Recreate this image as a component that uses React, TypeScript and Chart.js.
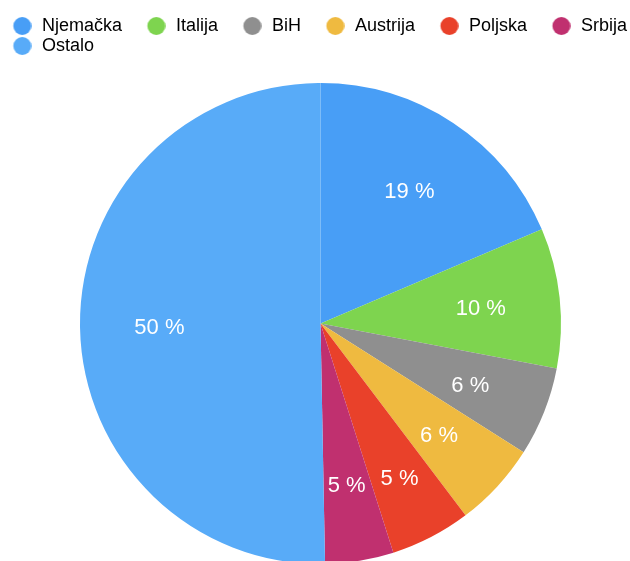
import React, { useEffect, useRef } from "react";
import { Chart, registerables } from "chart.js";

Chart.register(...registerables);

const countries = ["Njemačka", "Italija", "BiH", "Austrija", "Poljska", "Srbija", "Ostalo"];
const shares = [18.6, 9.4, 6.0, 5.7, 5.4, 4.6, 50.3];
const shareLabels = ["19 %", "10 %", "6 %", "6 %", "5 %", "5 %", "50 %"];
const colors = ["#489ef6", "#7ed44f", "#8f8f8f", "#efba40", "#e9412a", "#c0306f", "#58abf8"];

const FONT = "'Liberation Sans', Arial, Helvetica, sans-serif";

function makeDot(color: string) {
  const c = document.createElement("canvas");
  c.width = 40;
  c.height = 20;
  const g = c.getContext("2d")!;
  g.fillStyle = color;
  g.beginPath();
  g.arc(30.8, 10, 9, 0, Math.PI * 2);
  g.fill();
  return c;
}

const sliceLabelPlugin = {
  id: "sliceLabels",
  afterDatasetsDraw(chart: any) {
    const meta = chart.getDatasetMeta(0);
    const ctx = chart.ctx;
    ctx.save();
    ctx.font = `22px ${FONT}`;
    ctx.fillStyle = "#ffffff";
    ctx.textAlign = "center";
    ctx.textBaseline = "middle";
    meta.data.forEach((arc: any, i: number) => {
      const { x, y, startAngle, endAngle, outerRadius } = arc.getProps(
        ["x", "y", "startAngle", "endAngle", "outerRadius"],
        true
      );
      const mid = (startAngle + endAngle) / 2;
      const r = outerRadius * (i === 4 ? 0.715 : 0.67);
      ctx.fillText(shareLabels[i], x + Math.cos(mid) * r, y + Math.sin(mid) * r + 3);
    });
    ctx.restore();
  },
};

export default function App() {
  const ref = useRef<HTMLCanvasElement>(null);

  useEffect(() => {
    if (!ref.current) return;
    const dots = colors.map(makeDot);
    const chart = new Chart(ref.current, {
      type: "pie",
      data: {
        labels: countries,
        datasets: [
          {
            data: shares,
            backgroundColor: colors,
            borderWidth: 0,
          },
        ],
      },
      options: {
        animation: false,
        responsive: true,
        maintainAspectRatio: false,
        radius: 240.5,
        layout: { padding: { top: 15 } },
        plugins: {
          tooltip: { enabled: false },
          legend: {
            position: "top",
            align: "start",
            labels: {
              usePointStyle: true,
              pointStyleWidth: 43,
              padding: 2,
              color: "#000000",
              font: { size: 18, family: FONT },
              generateLabels: (ch: any) =>
                ch.data.labels.map((l: string, i: number) => ({
                  text: l,
                  fillStyle: colors[i],
                  strokeStyle: colors[i],
                  lineWidth: 0,
                  pointStyle: dots[i],
                  hidden: false,
                  index: i,
                  fontColor: "#000000",
                })),
            },
          },
        },
      } as any,
      plugins: [sliceLabelPlugin],
    });
    return () => chart.destroy();
  }, []);

  return (
    <div
      style={{
        position: "absolute",
        left: 0,
        top: 0,
        width: 630,
        height: 561,
        overflow: "hidden",
        background: "#ffffff",
      }}
    >
      <div style={{ position: "absolute", left: -12, top: 0, width: 665, height: 582 }}>
        <canvas ref={ref} />
      </div>
    </div>
  );
}
